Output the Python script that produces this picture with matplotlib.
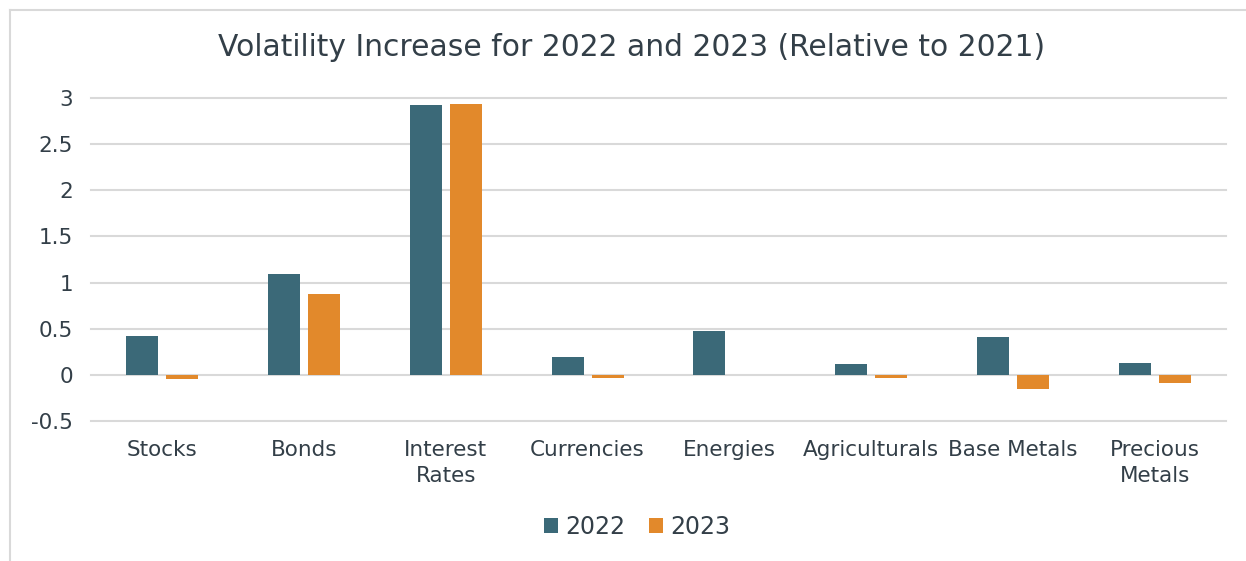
import numpy as np
import matplotlib
matplotlib.use("Agg")
import matplotlib.pyplot as plt
from matplotlib.lines import Line2D

# data
categories = ["Stocks", "Bonds", "Interest\nRates", "Currencies", "Energies",
              "Agriculturals", "Base Metals", "Precious\nMetals"]
vol_2022 = [0.42, 1.09, 2.92, 0.19, 0.48, 0.12, 0.41, 0.13]
vol_2023 = [-0.05, 0.88, 2.93, -0.03, 0.0, -0.03, -0.15, -0.09]
series_names = ["2022", "2023"]
y_ticks = [-0.5, 0, 0.5, 1, 1.5, 2, 2.5, 3]

c2022 = "#3B6978"
c2023 = "#E2892B"
txt = "#333F48"
grid = "#D9D9D9"

plt.rcParams['font.family'] = ['DejaVu Sans']

fig = plt.figure(figsize=(12.46, 5.61), dpi=100)
ax = fig.add_axes([0.073, 0.2496, 0.911, 0.5757])

# chart-area border (only top and left edges show)
bx, by = 9.5 / 1246, 1 - 9.5 / 561
fig.add_artist(Line2D([bx, 1.0], [by, by], transform=fig.transFigure,
                      color=grid, linewidth=1.5))
fig.add_artist(Line2D([bx, bx], [0.0, by], transform=fig.transFigure,
                      color=grid, linewidth=1.5))

x = np.arange(len(categories))
w = 0.225
off = 0.141
ax.bar(x - off, vol_2022, w, color=c2022, label=series_names[0], zorder=3)
ax.bar(x + off, vol_2023, w, color=c2023, label=series_names[1], zorder=3)

ax.set_xlim(-0.5, len(categories) - 0.5)
ax.set_ylim(-0.5, 3)
ax.set_yticks(y_ticks)
ax.set_yticklabels([f"{t:g}" for t in y_ticks])
ax.set_xticks(x)
ax.set_xticklabels(categories, linespacing=1.35)

for t in y_ticks:
    ax.axhline(t, color=grid, linewidth=1.5, zorder=1, clip_on=False)

for s in ax.spines.values():
    s.set_visible(False)
ax.tick_params(axis='both', length=0, labelsize=15.5, colors=txt)
ax.tick_params(axis='y', pad=13)
ax.tick_params(axis='x', pad=14)

fig.text(0.507, 0.915, "Volatility Increase for 2022 and 2023 (Relative to 2021)",
         ha='center', va='center', fontsize=21.4, color=txt)

leg = fig.legend(loc='center', bbox_to_anchor=(0.511, 0.061), ncol=2,
                 frameon=False, fontsize=17, handlelength=0.6,
                 handleheight=0.6, handletextpad=0.3, columnspacing=1.0)
for t in leg.get_texts():
    t.set_color(txt)

fig.savefig("out.png", dpi=100)
